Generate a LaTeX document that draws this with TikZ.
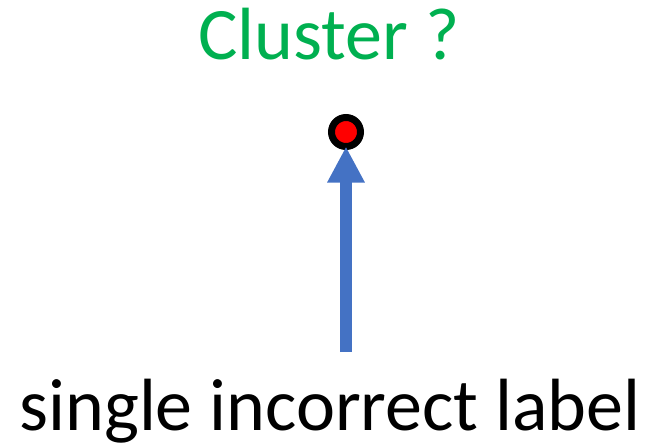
\documentclass[tikz,border=0pt]{standalone}
\usepackage{fontspec}
\setmainfont{Carlito}
\usetikzlibrary{arrows.meta}
\definecolor{clustergreen}{HTML}{00B050}
\definecolor{arrowblue}{HTML}{4472C4}
\tikzset{
  bigtext/.style={font=\fontsize{74}{88}\selectfont, inner sep=0pt, anchor=base},
  point/.style={circle, draw=black, fill=red, line width=7pt, minimum size=29pt, inner sep=0pt, outer sep=0pt},
  pointer/.style={draw=arrowblue, line width=12pt, -{Triangle[length=36pt,width=35pt]}}
}
\begin{document}
\begin{tikzpicture}[x=1pt,y=-1pt]
  \useasboundingbox (0,0) rectangle (649,444);
  % labels
  \node[bigtext, text=clustergreen] (title) at (329,60) {Cluster ?};
  \node[bigtext, text=black] (caption) at (330,430) {single incorrect label};
  % the data point and the arrow pointing at it
  \node[point] (dot) at (346,132) {};
  \coordinate (tail) at (346,352);
  \draw[pointer] (tail) -- (dot);
\end{tikzpicture}
\end{document}
